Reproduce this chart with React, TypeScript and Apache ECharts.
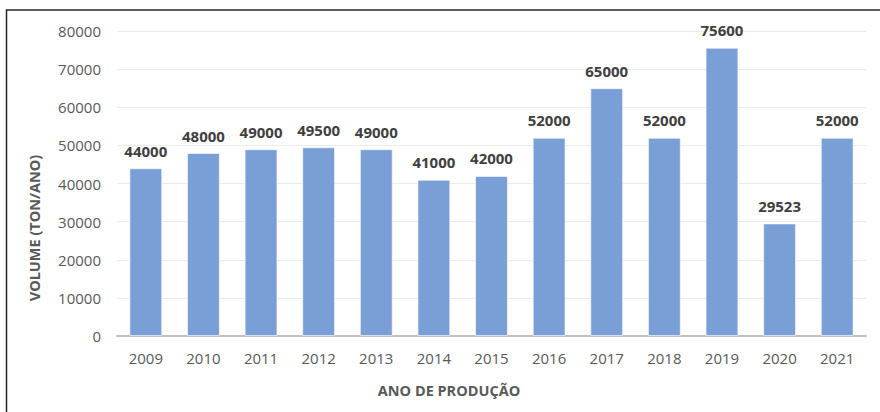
import React, { useEffect, useRef } from "react";
import * as echarts from "echarts";

const categories = ["2009", "2010", "2011", "2012", "2013", "2014", "2015", "2016", "2017", "2018", "2019", "2020", "2021"];
const volumes = [44000, 48000, 49000, 49500, 49000, 41000, 42000, 52000, 65000, 52000, 75600, 29523, 52000];
const yTicks = { min: 0, max: 80000, interval: 10000 };
const xAxisName = "ANO DE PRODUÇÃO";
const yAxisName = "VOLUME (TON/ANO)";

const FONT = "'Open Sans', 'Noto Sans', sans-serif";

export default function App() {
  const ref = useRef<HTMLDivElement>(null);
  useEffect(() => {
    document.body.style.margin = "0";
    if (!ref.current) return;
    const chart = echarts.init(ref.current, undefined, { renderer: "svg" });
    chart.setOption({
      animation: false,
      backgroundColor: "#ffffff",
      grid: { left: 117, right: 14, top: 31, bottom: 76, containLabel: false },
      xAxis: {
        type: "category",
        data: categories,
        axisLine: { lineStyle: { color: "#BFBFBF", width: 2 } },
        axisTick: { show: false },
        axisLabel: { fontFamily: FONT, fontSize: 15, color: "#595959", margin: 14 },
      },
      yAxis: {
        type: "value",
        min: yTicks.min,
        max: yTicks.max,
        interval: yTicks.interval,
        axisLine: { show: false },
        axisTick: { show: false },
        splitLine: { lineStyle: { color: "#EBEBEB", width: 1 } },
        axisLabel: {
          fontFamily: FONT,
          fontSize: 15,
          color: "#595959",
          margin: 16,
          formatter: (v: number) => String(v),
        },
      },
      graphic: [
        {
          type: "rect",
          shape: { x: 6.5, y: 10, width: 1000, height: 600 },
          style: { fill: "none", stroke: "#262626", lineWidth: 1.5 },
          silent: true,
        },
        {
          type: "text",
          x: 34,
          y: 228,
          rotation: Math.PI / 2,
          style: {
            text: yAxisName,
            fontFamily: FONT,
            fontSize: 14.5,
            fontWeight: "bold",
            fill: "#595959",
            align: "center",
            verticalAlign: "middle",
          },
        },
        {
          type: "text",
          x: 449,
          y: 390,
          style: {
            text: xAxisName,
            fontFamily: FONT,
            fontSize: 14.5,
            fontWeight: "bold",
            fill: "#595959",
            align: "center",
            verticalAlign: "middle",
          },
        },
      ],
      series: [
        {
          type: "bar",
          data: volumes,
          barWidth: "57%",
          itemStyle: { color: "#7A9ED6", borderColor: "rgba(255,255,255,0.6)", borderWidth: 1 },
          label: {
            show: true,
            position: "top",
            distance: 10,
            fontFamily: FONT,
            fontSize: 15,
            fontWeight: "bold",
            color: "#404040",
          },
        },
      ],
    });
    return () => chart.dispose();
  }, []);
  return <div ref={ref} style={{ width: 880, height: 412 }} />;
}
